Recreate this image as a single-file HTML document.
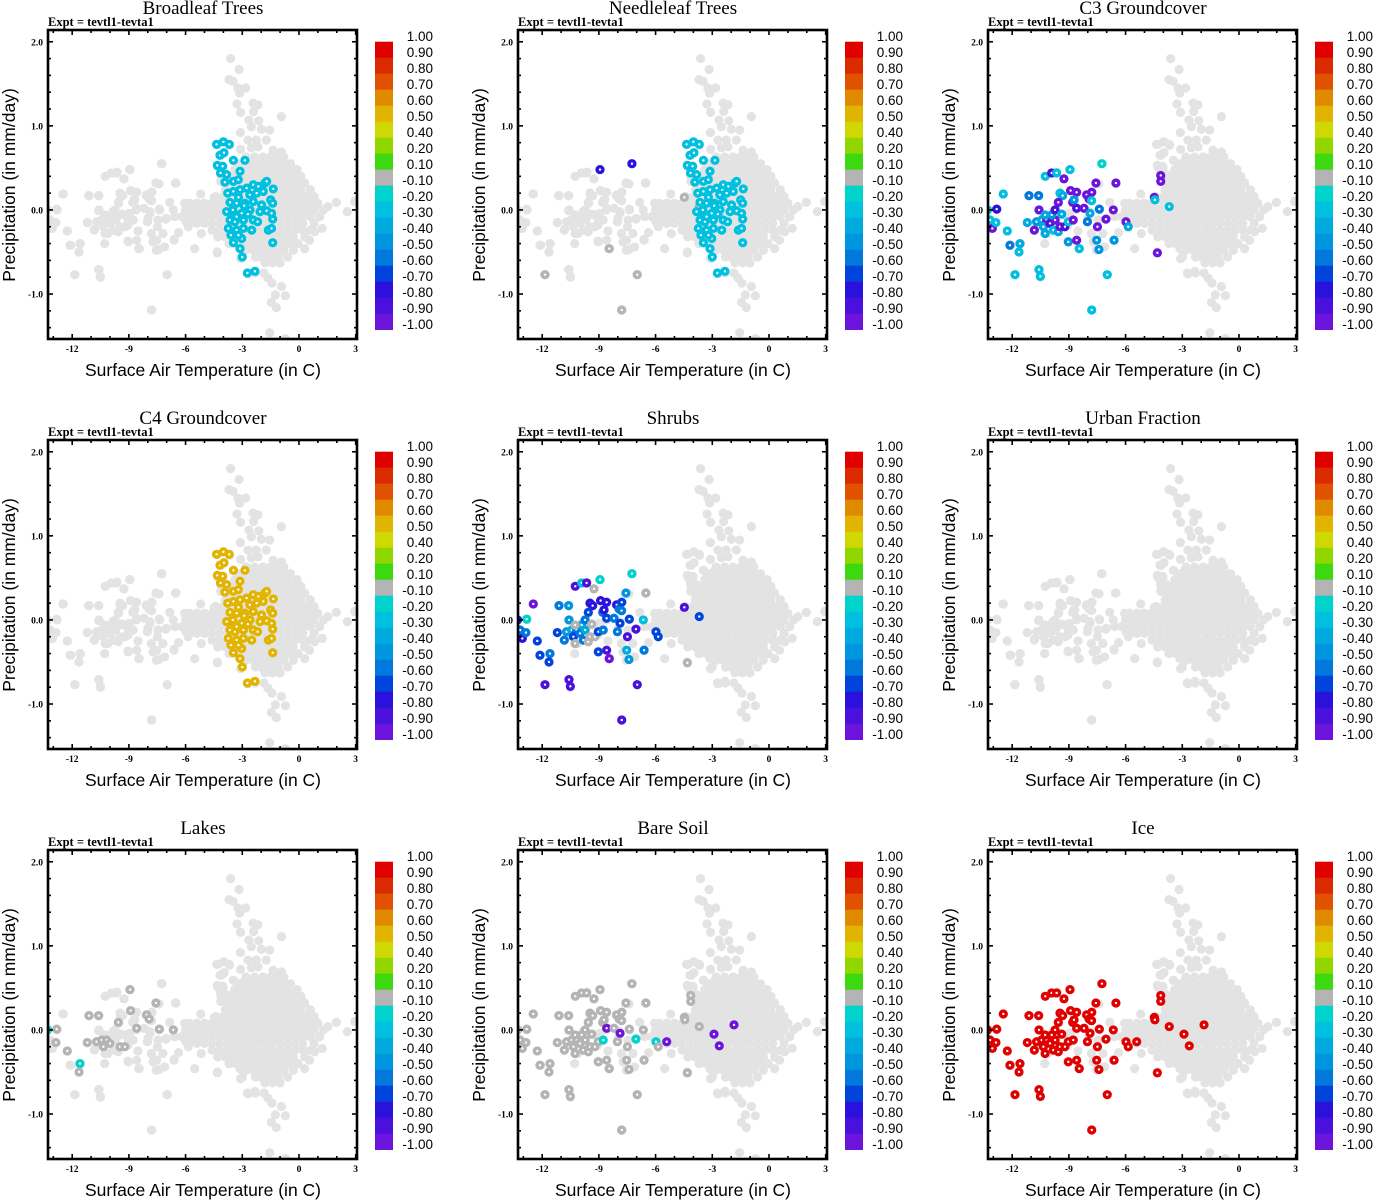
<!DOCTYPE html>
<html><head><meta charset="utf-8"><style>
html,body{margin:0;padding:0;background:#fff;}
svg{display:block;}
</style></head><body>
<svg id="fig" width="1373" height="1200" viewBox="0 0 1373 1200" xmlns="http://www.w3.org/2000/svg"></svg>
<script>
// ---- data ----
const panelTitles = ["Broadleaf Trees","Needleleaf Trees","C3 Groundcover","C4 Groundcover","Shrubs","Urban Fraction","Lakes","Bare Soil","Ice"];
const xTicks = [-12,-9,-6,-3,0,3];
const yTicks = [2.0,1.0,0.0,-1.0];
const yTickLabels = ["2.0","1.0","0.0","-1.0"];
const cbBounds = [1.0,0.9,0.8,0.7,0.6,0.5,0.4,0.2,0.1,-0.1,-0.2,-0.3,-0.4,-0.5,-0.6,-0.7,-0.8,-0.9,-1.0];
const cbLabels = ["1.00","0.90","0.80","0.70","0.60","0.50","0.40","0.20","0.10","-0.10","-0.20","-0.30","-0.40","-0.50","-0.60","-0.70","-0.80","-0.90","-1.00"];
const cbColors = ["#e00000","#dc2a00","#e05200","#e08a00","#e0b400","#cfd800","#92d600","#3cd810","#b4b4b4","#00d2cc","#00c0e0","#00aadf","#0096df","#0078dc","#0044dc","#2a12dc","#4a10dc","#6c14dc"];

const bgPoints = [
[-3.62,1.80],[-3.17,1.67],[-3.70,1.55],[-3.49,1.53],[-3.23,1.45],[-3.14,1.39],[-2.82,1.45],[-3.28,1.26],[-2.43,1.27],[-2.17,1.25],[-3.09,1.16],[-2.40,1.17],[-0.93,1.11],[-2.65,1.07],[-2.13,1.06],[-2.52,0.99],[-1.99,0.96],[-1.55,0.95],[-3.10,0.92],[-2.70,0.83],[-2.26,0.83],[-1.73,0.83],[-4.29,0.78],[-3.97,0.81],[-3.67,0.77],[-3.09,0.72],[-2.52,0.74],[-2.17,0.75],[-1.37,0.71],[-0.93,0.69],[-4.11,0.65],[-3.97,0.68],[-3.47,0.59],[-2.79,0.59],[-4.29,0.51],[-4.02,0.51],[-4.11,0.42],[-3.84,0.40],[-4.02,0.34],[-3.09,0.44],[-2.70,0.35],[-0.14,0.46],[-0.32,0.40],[0.09,0.32],
[-2.8,0.63],[-2.35,0.63],[-1.9,0.63],[-1.5,0.63],[-1.1,0.63],[-0.8,0.63],
[-3.2,0.55],[-2.8,0.55],[-2.4,0.55],[-2.0,0.55],[-1.6,0.55],[-1.2,0.55],[-0.8,0.55],[-0.45,0.55],
[-3.4,0.48],[-3.0,0.48],[-2.6,0.48],[-2.2,0.48],[-1.8,0.48],[-1.4,0.48],[-1.0,0.48],[-0.6,0.48],[-0.1,0.48],
[-3.5,0.40],[-3.1,0.40],[-2.7,0.40],[-2.3,0.40],[-1.9,0.40],[-1.5,0.40],[-1.1,0.40],[-0.7,0.40],[-0.3,0.40],[0.1,0.40],
[-3.7,0.32],[-3.3,0.32],[-2.9,0.32],[-2.5,0.32],[-2.1,0.32],[-1.7,0.32],[-1.3,0.32],[-0.9,0.32],[-0.5,0.32],[-0.1,0.32],[0.3,0.32],
[-3.9,0.24],[-3.5,0.24],[-3.1,0.24],[-2.7,0.24],[-2.3,0.24],[-1.9,0.24],[-1.5,0.24],[-1.1,0.24],[-0.7,0.24],[-0.3,0.24],[0.1,0.24],[0.6,0.24],
[-4.4,0.16],[-4.0,0.16],[-3.6,0.16],[-3.2,0.16],[-2.8,0.16],[-2.4,0.16],[-2.0,0.16],[-1.6,0.16],[-1.2,0.16],[-0.8,0.16],[-0.4,0.16],[0.0,0.16],[0.4,0.16],[0.8,0.16],
[-5.8,0.08],[-5.4,0.08],[-5.0,0.08],[-4.6,0.08],[-4.2,0.08],[-3.8,0.08],[-3.4,0.08],[-3.0,0.08],[-2.6,0.08],[-2.2,0.08],[-1.8,0.08],[-1.4,0.08],[-1.0,0.08],[-0.6,0.08],[-0.2,0.08],[0.2,0.08],[0.6,0.08],[1.0,0.08],
[-6.0,0.0],[-5.6,0.0],[-5.2,0.0],[-4.8,0.0],[-4.4,0.0],[-4.0,0.0],[-3.6,0.0],[-3.2,0.0],[-2.8,0.0],[-2.4,0.0],[-2.0,0.0],[-1.6,0.0],[-1.2,0.0],[-0.8,0.0],[-0.4,0.0],[0.0,0.0],[0.4,0.0],[0.8,0.0],[1.3,0.0],
[-6.2,-0.08],[-5.8,-0.08],[-5.4,-0.08],[-5.0,-0.08],[-4.6,-0.08],[-4.2,-0.08],[-3.8,-0.08],[-3.4,-0.08],[-3.0,-0.08],[-2.6,-0.08],[-2.2,-0.08],[-1.8,-0.08],[-1.4,-0.08],[-1.0,-0.08],[-0.6,-0.08],[-0.2,-0.08],[0.2,-0.08],[0.6,-0.08],[1.1,-0.08],
[-5.8,-0.16],[-5.4,-0.16],[-5.0,-0.16],[-4.6,-0.16],[-4.2,-0.16],[-3.8,-0.16],[-3.4,-0.16],[-3.0,-0.16],[-2.6,-0.16],[-2.2,-0.16],[-1.8,-0.16],[-1.4,-0.16],[-1.0,-0.16],[-0.6,-0.16],[-0.2,-0.16],[0.2,-0.16],[0.8,-0.16],
[-4.6,-0.24],[-4.2,-0.24],[-3.8,-0.24],[-3.4,-0.24],[-3.0,-0.24],[-2.6,-0.24],[-2.2,-0.24],[-1.8,-0.24],[-1.4,-0.24],[-1.0,-0.24],[-0.6,-0.24],[-0.2,-0.24],[0.2,-0.24],[0.6,-0.24],
[-4.3,-0.32],[-3.9,-0.32],[-3.5,-0.32],[-3.1,-0.32],[-2.7,-0.32],[-2.3,-0.32],[-1.9,-0.32],[-1.5,-0.32],[-1.1,-0.32],[-0.7,-0.32],[-0.3,-0.32],[0.3,-0.32],
[-3.7,-0.40],[-3.3,-0.40],[-2.9,-0.40],[-2.5,-0.40],[-2.1,-0.40],[-1.7,-0.40],[-1.3,-0.40],[-0.9,-0.40],[-0.5,-0.40],[-0.05,-0.40],
[-2.8,-0.48],[-2.4,-0.48],[-2.0,-0.48],[-1.6,-0.48],[-1.2,-0.48],[-0.8,-0.48],[-0.3,-0.48],
[-2.3,-0.56],[-1.9,-0.56],[-1.5,-0.56],[-1.1,-0.56],[-0.6,-0.56],
[-1.8,-0.63],[-1.4,-0.63],[-1.0,-0.63],
[-12.49,0.19],[-12.80,0.00],[-13.02,-0.15],[-13.1,-0.22],[-12.26,-0.25],[-12.08,-0.42],[-11.57,-0.40],[-11.64,-0.50],[-11.87,-0.77],[-10.60,-0.71],[-10.51,-0.80],[-11.13,0.17],[-10.60,0.17],[-10.25,0.40],[-9.93,0.44],[-9.63,0.45],[-9.26,0.37],[-8.96,0.48],[-7.28,0.55],[-8.91,0.23],[-8.61,0.21],[-9.44,0.17],[-9.54,0.08],[-8.69,0.12],[-8.08,0.17],[-7.78,0.21],[-7.41,0.31],[-6.54,0.32],
[-10.60,-0.01],[-11.20,-0.15],[-10.81,-0.23],[-10.46,-0.14],[-10.19,-0.08],[-9.84,-0.02],[-9.66,-0.10],[-9.22,-0.06],[-8.96,-0.04],[-8.61,0.00],[-9.05,-0.18],[-9.58,-0.24],[-10.11,-0.28],[-10.28,-0.40],[-8.52,-0.25],[-7.99,-0.10],[-7.46,-0.12],[-7.02,-0.10],[-6.58,-0.08],[-6.05,0.08],[-6.84,0.09],[-7.90,-0.02],[-7.37,0.00],
[-9.05,-0.37],[-8.48,-0.46],[-7.81,-0.28],[-7.72,-0.38],[-7.55,-0.48],[-7.20,-0.28],[-7.11,-0.44],[-6.61,-0.35],[-6.37,-0.27],[-5.52,-0.46],[-5.20,0.19],[-5.17,-0.28],[-4.32,-0.50],[-6.98,-0.77],[-7.81,-1.19],
[1.53,0.04],[1.98,0.09],[2.56,-0.02],[2.95,0.10],[0.83,-0.26],[1.23,-0.22],[0.56,-0.36],[0.3,-0.46],
[-2.70,-0.76],[-2.31,-0.75],[-1.85,-0.75],[-1.64,-0.81],[-1.43,-0.87],[-0.93,-0.91],[-1.25,-1.01],[-0.72,-1.02],[-1.46,-1.10],[-1.2,-1.16],[-1.55,-1.46],[-0.72,-1.53],
[-3.09,-0.58],[-2.70,-0.46],[-2.0,-0.56]
];

const warmPoints = [
[-4.36,0.78],[-4.0,0.81],[-3.69,0.78],[-4.18,0.65],[-3.97,0.68],[-4.32,0.53],[-4.04,0.52],[-4.15,0.44],[-3.83,0.42],[-3.47,0.59],
[-2.86,0.59],[-3.12,0.46],[-3.92,0.33],[-3.47,0.34],[-3.21,0.36],[-3.77,0.20],[-3.47,0.22],[-3.12,0.24],[-2.77,0.26],[-2.42,0.30],
[-2.15,0.28],[-1.80,0.32],[-2.24,0.20],[-1.89,0.22],[-1.71,0.34],[-1.36,0.25],[-1.50,0.12],[-1.39,0.08],[-3.65,0.09],[-3.30,0.08],
[-2.86,0.08],[-2.42,0.10],[-1.98,0.06],[-1.71,-0.01],[-3.83,-0.02],[-3.47,-0.04],[-3.03,-0.04],[-2.59,0.0],[-2.06,-0.02],[-1.45,-0.04],
[-3.65,-0.12],[-3.39,-0.14],[-2.94,-0.12],[-2.42,-0.12],[-2.19,-0.14],[-1.39,-0.11],[-3.74,-0.22],[-3.30,-0.24],[-2.94,-0.22],[-2.50,-0.24],
[-1.62,-0.24],[-1.45,-0.22],[-3.47,-0.39],[-3.03,-0.34],[-3.12,-0.46],[-3.0,-0.56],[-2.73,-0.75],[-2.33,-0.73],[-1.39,-0.39],[-3.2,0.15],
[-2.6,0.18],[-3.5,0.0],[-3.3,-0.08],[-2.7,-0.05],[-2.9,0.05],[-3.6,-0.3],[-3.2,-0.3]
];

const coldPoints = [
[-13.3,0.0],[-13.17,-0.12],[-13.05,-0.22],[-12.82,0.01],[-12.86,-0.15],[-12.47,0.19],[-12.26,-0.25],[-12.12,-0.42],[-11.59,-0.40],[-11.64,-0.50],
[-11.85,-0.77],[-11.11,0.17],[-11.2,-0.15],[-10.83,-0.24],[-10.60,0.17],[-10.58,0.0],[-10.58,-0.71],[-10.51,-0.79],[-10.71,-0.14],[-10.44,-0.12],
[-10.18,-0.12],[-10.35,-0.20],[-10.0,-0.16],[-10.26,-0.28],[-9.82,-0.24],[-9.56,-0.26],[-9.73,-0.12],[-9.91,-0.06],[-9.47,-0.20],[-9.21,-0.20],
[-9.03,-0.14],[-8.77,-0.12],[-10.26,-0.06],[-10.25,0.40],[-9.91,0.44],[-9.65,0.44],[-9.26,0.37],[-8.94,0.48],[-9.03,-0.38],[-8.59,-0.36],
[-8.45,-0.46],[-9.47,0.20],[-9.33,0.17],[-9.56,0.09],[-9.73,0.0],[-9.38,-0.05],[-8.91,0.23],[-8.59,0.21],[-8.80,0.09],[-8.59,0.02],
[-8.20,0.02],[-8.73,0.12],[-8.06,0.18],[-7.93,0.13],[-7.79,0.21],[-7.80,0.11],[-7.79,-1.19],[-7.57,0.32],[-7.25,0.55],[-7.39,0.01],
[-7.88,-0.04],[-8.02,-0.14],[-7.49,-0.20],[-7.53,-0.36],[-7.41,-0.47],[-7.04,-0.11],[-6.97,-0.77],[-6.61,-0.36],[-6.65,0.0],[-6.51,0.32],
[-5.98,-0.14],[-5.86,-0.20],[-5.41,-0.14],[-4.48,0.15],[-4.45,0.12],[-4.14,0.41],[-4.14,0.34],[-4.32,-0.51],[-3.69,0.04],[-2.91,-0.05],
[-2.63,-0.19],[-1.85,0.06]
];

const N = null;
const broadleafWarm = [-0.25,-0.25,-0.25,-0.25,-0.25,-0.25,-0.25,-0.25,-0.25,-0.25,-0.25,-0.25,-0.25,-0.25,-0.25,-0.25,-0.25,-0.25,-0.25,-0.25,-0.25,-0.25,-0.25,-0.25,-0.25,-0.25,-0.25,-0.25,-0.25,-0.25,-0.25,-0.25,-0.25,-0.25,-0.25,-0.25,-0.25,-0.25,-0.25,-0.25,-0.25,-0.25,-0.25,-0.25,-0.25,-0.25,-0.25,-0.25,-0.25,-0.25,-0.25,-0.25,-0.25,-0.25,-0.25,-0.25,-0.25,-0.25,-0.25,-0.25,-0.25,-0.25,-0.25,-0.25,-0.25,-0.25,-0.25];
const needleWarm = [-0.25,-0.25,-0.25,-0.25,-0.25,-0.25,-0.25,-0.25,-0.25,-0.25,-0.25,-0.25,-0.25,-0.25,-0.25,-0.25,-0.25,-0.25,-0.25,-0.25,-0.25,-0.25,-0.25,-0.25,-0.25,-0.25,-0.25,-0.25,-0.25,-0.25,-0.25,-0.25,-0.25,-0.25,-0.25,-0.25,-0.25,-0.25,-0.25,-0.25,-0.25,-0.25,-0.25,-0.25,-0.25,-0.25,-0.25,-0.25,-0.25,-0.25,-0.25,-0.25,-0.25,-0.25,-0.25,-0.25,-0.25,-0.25,-0.25,-0.25,-0.25,-0.25,-0.25,-0.25,-0.25,-0.25,-0.25];
const c4Warm = [0.55,0.55,0.55,0.55,0.55,0.55,0.55,0.55,0.55,0.55,0.55,0.55,0.55,0.55,0.55,0.55,0.55,0.55,0.55,0.55,0.55,0.55,0.55,0.55,0.55,0.55,0.55,0.55,0.55,0.55,0.55,0.55,0.55,0.55,0.55,0.55,0.55,0.55,0.55,0.55,0.55,0.55,0.55,0.55,0.55,0.55,0.55,0.55,0.55,0.55,0.55,0.55,0.55,0.55,0.55,0.55,0.55,0.55,0.55,0.55,0.55,0.55,0.55,0.55,0.55,0.55,0.55];

const needleCold = [N,N,N,N,N,N,N,N,N,N, 0,N,N,N,N,N,N,N,N,N, N,N,N,N,N,N,N,N,N,N, N,N,N,N,N,N,N,-0.75,N,N, 0,N,N,N,N,N,N,N,N,N, N,N,N,N,N,N,0,N,-0.75,N, N,N,N,N,N,N,0,N,N,N, N,N,N,0,N,N,N,N,0,N, N,N];
const c3Cold = [-0.25,-0.25,-0.95,-0.75,-0.25,-0.25,-0.25,-0.55,-0.35,-0.25,
-0.25,-0.55,-0.35,-0.95,-0.55,-0.95,-0.25,-0.25,-0.45,-0.35,
-0.95,-0.35,-0.85,-0.35,-0.25,-0.35,-0.95,-0.45,-0.95,-0.85,
-0.25,-0.95,-0.35,-0.25,-0.85,-0.3,-0.95,-0.25,-0.45,-0.95,
-0.25,-0.25,-0.35,-0.95,-0.85,-0.35,-0.95,-0.95,-0.95,-0.9,
-0.95,-0.45,-0.95,-0.95,-0.95,-0.25,-0.25,-0.95,-0.2,-0.55,
-0.35,-0.55,-0.95,-0.45,-0.45,-0.95,-0.25,-0.45,-0.95,-0.95,
-0.95,-0.35,N,-0.95,-0.3,-0.95,-0.95,-0.95,-0.25,N,
N,N];
const shrubCold = [-0.75,-0.55,-0.75,-0.15,-0.55,-0.95,-0.65,-0.65,-0.55,-0.65,
-0.85,-0.55,-0.65,-0.55,-0.45,-0.45,-0.85,-0.85,-0.45,-0.35,
-0.55,-0.65,-0.55,0,-0.55,0,-0.4,-0.35,0,0,
-0.65,-0.55,0,-0.85,-0.25,-0.85,0,-0.15,-0.65,-0.85,
-0.95,-0.75,-0.75,-0.65,-0.55,0,-0.75,-0.75,-0.55,-0.65,
-0.55,-0.75,-0.75,-0.55,-0.65,-0.55,-0.85,-0.5,-0.15,-0.65,
-0.65,-0.55,-0.85,-0.4,-0.45,-0.85,-0.85,-0.55,-0.25,0,
-0.7,-0.7,N,-0.85,N,N,N,0,-0.7,N,
N,N];
const lakeCold = [-0.15,N,N,0,0,N,0,N,-0.15,0,
N,0,0,N,0,N,N,N,0,0,
0,0,0,N,N,N,N,N,0,0,
N,N,N,N,N,N,N,0,N,N,
N,N,N,0,N,N,0,N,N,0,
N,N,0,0,N,N,N,0,N,0,
N,N,N,N,N,N,N,N,0,N,
N,N,N,N,N,N,N,N,N,N,
N,N];
const bareCold = [0,0,0,0,0,0,0,0,0,0,
0,0,0,0,0,0,0,0,0,0,
0,0,0,0,0,0,0,0,0,0,
0,-0.15,0,0,0,0,0,0,0,0,
0,0,0,0,0,0,0,0,0,-0.95,
0,0,0,0,0,0,0,0,0,0,
-0.95,0,0,0,0,-0.15,0,0,0,0,
-0.15,0,-0.95,0,0,0,0,0,0,-0.95,
-0.95,-0.95];
const iceCold = [0.95,0.95,0.95,0.95,0.95,0.95,0.95,0.95,0.95,0.95,
0.95,0.95,0.95,0.95,0.95,0.95,0.95,0.95,0.95,0.95,
0.95,0.95,0.95,0.95,0.95,0.95,0.95,0.95,0.95,0.95,
0.95,0.95,0.95,0.95,0.95,0.95,0.95,0.95,0.95,0.95,
0.95,0.95,0.95,0.95,0.95,0.95,0.95,0.95,0.95,0.95,
0.95,0.95,0.95,0.95,0.95,0.95,0.95,0.95,0.95,0.95,
0.95,0.95,0.95,0.95,0.95,0.95,0.95,0.95,0.95,0.95,
0.95,0.95,0.95,0.95,0.95,0.95,0.95,0.95,0.95,0.95,
0.95,0.95];

const panelWarm = [broadleafWarm, needleWarm, null, c4Warm, null, null, null, null, null];
const panelCold = [null, needleCold, c3Cold, null, shrubCold, null, lakeCold, bareCold, iceCold];

// ---- drawing ----
const NS = "http://www.w3.org/2000/svg";
const svg = document.getElementById("fig");
const X0 = 48, X1 = 357, Y0 = 30, Y1 = 339;
const XMIN = -13.28, XMAX = 3.07, YMIN = -1.535, YMAX = 2.14;
function sx(v){ return X0 + (v - XMIN) / (XMAX - XMIN) * (X1 - X0); }
function sy(v){ return Y0 + (YMAX - v) / (YMAX - YMIN) * (Y1 - Y0); }
function el(tag, attrs, parent){
  const e = document.createElementNS(NS, tag);
  for (const k in attrs) e.setAttribute(k, attrs[k]);
  parent.appendChild(e);
  return e;
}
function colorFor(v){
  for (let i = 0; i < cbColors.length; i++){
    if (v <= cbBounds[i] && v >= cbBounds[i+1]) return cbColors[i];
  }
  return cbColors[cbColors.length-1];
}
const serif = '"Liberation Serif", serif';
const sans = '"Liberation Sans", sans-serif';

const defs = el("defs", {}, svg);
const clip = el("clipPath", {id:"plotclip"}, defs);
el("rect", {x:X0, y:Y0, width:X1-X0, height:Y1-Y0}, clip);

for (let p = 0; p < 9; p++){
  const col = p % 3, row = Math.floor(p / 3);
  const g = el("g", {transform:`translate(${col*470},${row*410})`}, svg);
  
  

  const t = el("text", {x:203, y:14, "text-anchor":"middle", "font-family":serif, "font-size":19}, g);
  t.textContent = panelTitles[p];
  
  

  const ex = el("text", {x:48, y:26, "font-family":serif, "font-size":12.5, "font-weight":"bold"}, g);
  ex.textContent = "Expt = tevtl1-tevta1";
  
  

  const pts = el("g", {"clip-path":"url(#plotclip)"}, g);
  
  
  const allBg = bgPoints.concat(warmPoints, coldPoints);
  for (const q of allBg){
    const c = el("circle", {cx:sx(q[0]), cy:sy(q[1]), r:4.6, fill:"#e3e3e3"}, pts);
    
    
  }
  const sets = [[coldPoints, panelCold[p]], [warmPoints, panelWarm[p]]];
  for (const [locs, vals] of sets){
    if (!vals) continue;
    for (let i = 0; i < locs.length; i++){
      const v = vals[i];
      if (v === null || v === undefined) continue;
      const c = el("circle", {cx:sx(locs[i][0]), cy:sy(locs[i][1]), r:4.6, fill:colorFor(v)}, pts);
      
      
      el("circle", {cx:sx(locs[i][0]), cy:sy(locs[i][1]), r:1.2, fill:"#ffffff"}, pts);
    }
  }

  const ax = el("g", {stroke:"#000", "stroke-width":1.6}, g);
  
  
  for (let v = -13; v <= 3; v++){
    const major = xTicks.indexOf(v) >= 0;
    const L = major ? 5 : 3;
    el("line", {x1:sx(v), x2:sx(v), y1:Y1, y2:Y1-L}, ax);
    el("line", {x1:sx(v), x2:sx(v), y1:Y0, y2:Y0+L}, ax);
  }
  for (let k = -7; k <= 10; k++){
    const v = k * 0.2;
    const major = Math.abs(v - Math.round(v)) < 1e-6;
    const L = major ? 5 : 3;
    el("line", {x1:X0, x2:X0+L, y1:sy(v), y2:sy(v)}, ax);
    el("line", {x1:X1, x2:X1-L, y1:sy(v), y2:sy(v)}, ax);
  }
  const fr = el("rect", {x:X0, y:Y0, width:X1-X0, height:Y1-Y0, fill:"none", stroke:"#000", "stroke-width":2.6}, g);
  
  

  for (const v of xTicks){
    const tl = el("text", {x:sx(v), y:352, "text-anchor":"middle", "font-family":serif, "font-size":9.5, "font-weight":"bold"}, g);
    tl.textContent = String(v);
    
    
  }
  for (let i = 0; i < yTicks.length; i++){
    const tl = el("text", {x:43, y:sy(yTicks[i]) + 3.5, "text-anchor":"end", "font-family":serif, "font-size":9.5, "font-weight":"bold"}, g);
    tl.textContent = yTickLabels[i];
    
    
  }
  const xt = el("text", {x:203, y:376, "text-anchor":"middle", "font-family":sans, "font-size":17.5}, g);
  xt.textContent = "Surface Air Temperature (in C)";
  
  
  const yt = el("text", {x:0, y:0, "text-anchor":"middle", "font-family":sans, "font-size":17.5, transform:"translate(15,185) rotate(-90)"}, g);
  yt.textContent = "Precipitation (in mm/day)";
  
  

  const cb = el("g", {}, g);
  
  
  for (let i = 0; i < cbColors.length; i++){
    const r = el("rect", {x:375, y:41.7 + i*16, width:18, height:16.3, fill:cbColors[i]}, cb);
    
    
  }
  for (let i = 0; i < cbLabels.length; i++){
    const tl = el("text", {x:433, y:41 + i*16, "text-anchor":"end", "font-family":sans, "font-size":13.5}, cb);
    tl.textContent = cbLabels[i];
    
    
  }
}
</script>
</body></html>
